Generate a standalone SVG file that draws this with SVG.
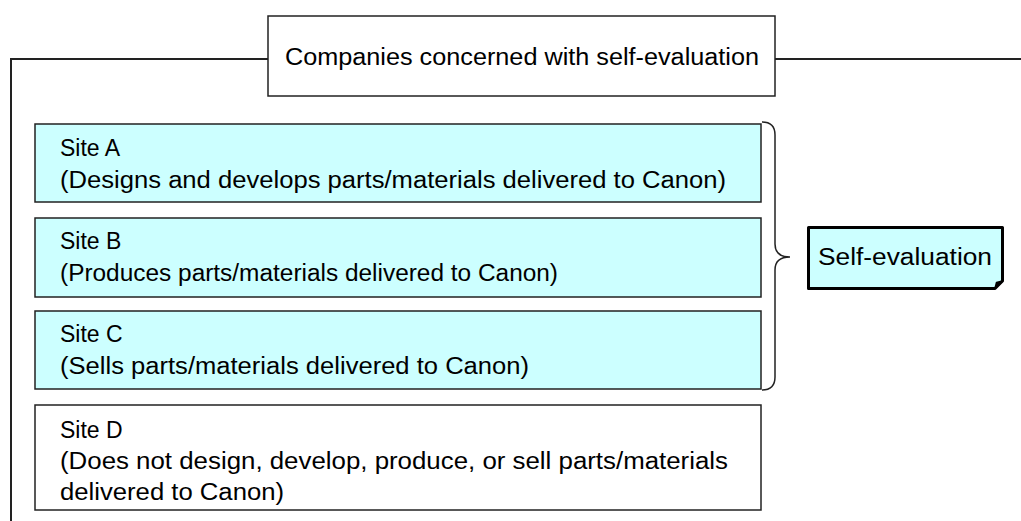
<svg xmlns="http://www.w3.org/2000/svg" width="1021" height="521" viewBox="0 0 1021 521">
<style>
text{font-family:"Liberation Sans",Arial,sans-serif;font-size:23px;fill:#000}
.site{stroke:#222;stroke-width:1.5}
.cyan{fill:#ccffff}
.white{fill:#fff}
.frame{fill:none;stroke:#222;stroke-width:2}
</style>
<rect width="1021" height="521" fill="#fff"/>
<g id="connectors">
<path class="frame" d="M11 521 V59 H268 M775 59 H1021"/>
<path id="brace" fill="none" stroke="#222" stroke-width="1.5" d="M762 122 Q775 122 775 135 V244 Q775 257 790 257 Q775 257 775 270 V377 Q775 390 762 390"/>
</g>
<g id="title">
<rect class="site white" x="268" y="16" width="507" height="80"/>
<text x="285" y="65" textLength="474" lengthAdjust="spacingAndGlyphs">Companies concerned with self-evaluation</text>
</g>
<g id="siteA">
<rect class="site cyan" x="35" y="124" width="726" height="78"/>
<text x="60" y="156">Site A</text>
<text x="60" y="188" textLength="666" lengthAdjust="spacingAndGlyphs">(Designs and develops parts/materials delivered to Canon)</text>
</g>
<g id="siteB">
<rect class="site cyan" x="35" y="218" width="726" height="79"/>
<text x="60" y="249">Site B</text>
<text x="60" y="281" textLength="498" lengthAdjust="spacingAndGlyphs">(Produces parts/materials delivered to Canon)</text>
</g>
<g id="siteC">
<rect class="site cyan" x="35" y="311" width="726" height="78"/>
<text x="60" y="342">Site C</text>
<text x="60" y="374" textLength="469" lengthAdjust="spacingAndGlyphs">(Sells parts/materials delivered to Canon)</text>
</g>
<g id="siteD">
<rect class="site white" x="35" y="405" width="726" height="105"/>
<text x="60" y="438">Site D</text>
<text x="60" y="469" textLength="668" lengthAdjust="spacingAndGlyphs">(Does not design, develop, produce, or sell parts/materials</text>
<text x="60" y="500" textLength="224" lengthAdjust="spacingAndGlyphs">delivered to Canon)</text>
</g>
<g id="selfEvaluation">
<path d="M808.5 227.5 H1002.5 V281 L995 288.5 H808.5 Z" fill="#ccffff" stroke="#000" stroke-width="3" stroke-linejoin="round"/>
<path d="M1002.5 281 L995 288.5 L996.5 282.5 Z" fill="#000" stroke="#000" stroke-width="1.5" stroke-linejoin="round"/>
<text x="818" y="265" textLength="174" lengthAdjust="spacingAndGlyphs">Self-evaluation</text>
</g>
</svg>
